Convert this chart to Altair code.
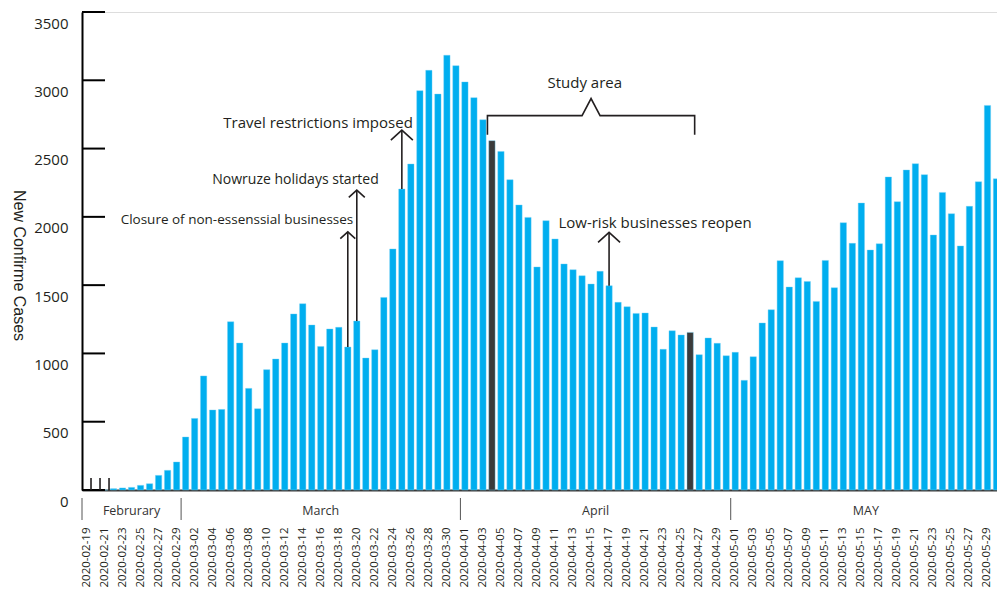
import altair as alt
import pandas as pd

# ---------------- data ----------------
dates = pd.date_range("2020-02-19", "2020-05-30", freq="D").strftime("%Y-%m-%d").tolist()

cases = [
    # February 19-29
    0, 0, 0, 10, 15, 19, 34, 46, 107, 144, 205,
    # March 1-31
    388, 524, 835, 586, 590, 1232, 1076, 744, 595, 881, 959, 1076, 1289, 1364, 1208, 1051,
    1179, 1191, 1047, 1237, 966, 1027, 1410, 1765, 2204, 2387, 2924, 3073, 2899, 3183, 3107,
    # April 1-30
    2988, 2873, 2711, 2558, 2479, 2272, 2087, 1996, 1633, 1972, 1838, 1655, 1613, 1569, 1508,
    1601, 1496, 1374, 1342, 1293, 1296, 1193, 1030, 1166, 1135, 1154, 991, 1113, 1074, 983,
    # May 1-30
    1008, 803, 976, 1223, 1320, 1679, 1486, 1554, 1527, 1381, 1681, 1481, 1957, 1806, 2101,
    1757, 1803, 2292, 2111, 2343, 2389, 2309, 1867, 2179, 2023, 1787, 2077, 2257, 2816, 2279,
]

highlight_days = ["2020-04-04", "2020-04-26"]
start_marks = ["2020-02-19", "2020-02-20", "2020-02-21"]
start_mark_value = 88

y_ticks = [0, 500, 1000, 1500, 2000, 2500, 3000, 3500]
x_label_values = dates[::2]

month_names = ["Februrary", "March", "April", "MAY"]
month_days = [11, 31, 30, 30]

event_labels = ["Closure of non-essenssial businesses", "Nowruze holidays started",
                "Travel restrictions imposed", "Low-risk businesses reopen"]
event_dates = ["2020-03-19", "2020-03-20", "2020-03-25", "2020-04-17"]
event_tips = [1890, 2196, 2635, 1886]
event_text_x = [17.2, 23.7, 26.2, 63.6]      # in day units along the axis
event_text_y = [1979, 2272, 2690, 1957]
event_font = [13.5, 14, 15, 15]
event_head_half = [7.5, 8, 11, 11]

study_label = "Study area"
study_start, study_end = "2020-04-04", "2020-04-26"
study_text_y = 2982
bracket_low, bracket_mid, bracket_peak = 2602, 2741, 2866

# ---------------- tables ----------------
n = len(dates)
df = pd.DataFrame({"date": dates, "cases": cases})
df["kind"] = ["dark" if d in highlight_days else "base" for d in dates]

W, H = 919, 478
FONT = "Open Sans"
TXT = "#231f20"

ydom = alt.Scale(domain=[0, 3500], nice=False, zero=True)


def xlin(field):
    return alt.X(field, type="quantitative",
                 scale=alt.Scale(domain=[0, n], nice=False, zero=False), axis=None)


bars = alt.Chart(df).mark_bar(stroke="#6fd0f4", strokeWidth=0.4).encode(
    x=alt.X("date:O", sort=dates,
            scale=alt.Scale(paddingInner=0.3, paddingOuter=0.15),
            axis=alt.Axis(values=x_label_values, labelAngle=270, labelPadding=37,
                          ticks=False, domainColor="#3a3a3a", domainWidth=2,
                          labelFont=FONT, labelFontSize=11.5, labelColor=TXT, title=None)),
    y=alt.Y("cases:Q", scale=ydom,
            axis=alt.Axis(values=y_ticks, format="d", ticks=False, grid=False, domainColor="black",
                          domainWidth=2, labelOffset=11, labelPadding=14, labelFont=FONT,
                          labelFontSize=15, labelColor=TXT,
                          title="New Confirme Cases", titleFont="Liberation Sans",
                          titleFontSize=16, titleFontWeight="normal", titleAngle=90,
                          titleX=-64, titleY=253, titleAlign="center",
                          titleBaseline="middle", titleColor=TXT)),
    color=alt.Color("kind:N", scale=alt.Scale(domain=["base", "dark"],
                                               range=["#00aeef", "#3b3b3b"]), legend=None),
)

ytick_df = pd.DataFrame({"v": y_ticks})
yticks = alt.Chart(ytick_df).mark_rule(color="black", strokeWidth=2).encode(
    x=alt.value(0), x2=alt.value(23), y=alt.Y("v:Q", scale=ydom))

sm_df = pd.DataFrame({"xs": [dates.index(d) + 1 for d in start_marks],
                      "y0": 0, "y1": start_mark_value})
start_ticks = alt.Chart(sm_df).mark_rule(color="#231f20", strokeWidth=1.6).encode(
    x=xlin("xs"), y=alt.Y("y0:Q", scale=ydom), y2="y1:Q")

ev = pd.DataFrame({
    "label": event_labels,
    "xc": [dates.index(d) + 0.5 for d in event_dates],
    "base": [cases[dates.index(d)] for d in event_dates],
    "tip": event_tips,
    "tx": event_text_x,
    "ty": event_text_y,
    "fs": event_font,
    "hs": [(2 * h) ** 2 for h in event_head_half],
})
arrow_lines = alt.Chart(ev).mark_rule(color="#231f20", strokeWidth=1.6).encode(
    x=xlin("xc"), y=alt.Y("base:Q", scale=ydom), y2="tip:Q")
arrow_heads = alt.Chart(ev).mark_point(shape="M-1,0.9L0,0L1,0.9", filled=False,
                                       stroke="#231f20", strokeWidth=1.6, opacity=1).encode(
    x=xlin("xc"), y=alt.Y("tip:Q", scale=ydom), size=alt.Size("hs:Q", scale=None))
ev_text = alt.Chart(ev).mark_text(font=FONT, color=TXT, align="center",
                                  baseline="middle").encode(
    x=xlin("tx"), y=alt.Y("ty:Q", scale=ydom), text="label:N",
    size=alt.Size("fs:Q", scale=None))

s0 = dates.index(study_start)
s1 = dates.index(study_end) + 1
smid = (s0 + s1) / 2
br = pd.DataFrame({
    "bx": [s0, s0, smid - 1, smid, smid + 1, s1, s1],
    "by": [bracket_low, bracket_mid, bracket_mid, bracket_peak, bracket_mid, bracket_mid, bracket_low],
    "o": list(range(7)),
})
bracket = alt.Chart(br).mark_line(color="#231f20", strokeWidth=1.6).encode(
    x=xlin("bx"), y=alt.Y("by:Q", scale=ydom), order="o:Q")
study_text = alt.Chart(pd.DataFrame({"t": [study_label], "x": [smid - 0.7], "y": [study_text_y]})).mark_text(
    font=FONT, fontSize=15, color=TXT, align="center", baseline="middle").encode(
    x=xlin("x"), y=alt.Y("y:Q", scale=ydom), text="t:N")

starts = [0]
for d in month_days[:-1]:
    starts.append(starts[-1] + d)
mdf = pd.DataFrame({"m": month_names, "ms": starts,
                    "mc": [s + d / 2 for s, d in zip(starts, month_days)]})
month_sep = alt.Chart(mdf).mark_rule(color="#555555", strokeWidth=1).encode(
    x=xlin("ms"), y=alt.value(H + 8), y2=alt.value(H + 30))
month_txt = alt.Chart(mdf).mark_text(font=FONT, fontSize=12.5, color="#333333",
                                     baseline="middle").encode(
    x=xlin("mc"), y=alt.value(H + 21), text="m:N")

chart = alt.layer(
    bars, yticks, start_ticks, arrow_lines, arrow_heads, ev_text, bracket, study_text,
    month_sep, month_txt
).resolve_scale(x="independent").properties(
    width=W, height=H,
    padding={"left": 74, "top": 4, "right": -4, "bottom": 104},
    autosize=alt.AutoSizeParams(type="none"),
).configure_view(stroke=None).configure(background="white")

chart.save("out.html", embed_options={"renderer": "svg", "actions": False})
